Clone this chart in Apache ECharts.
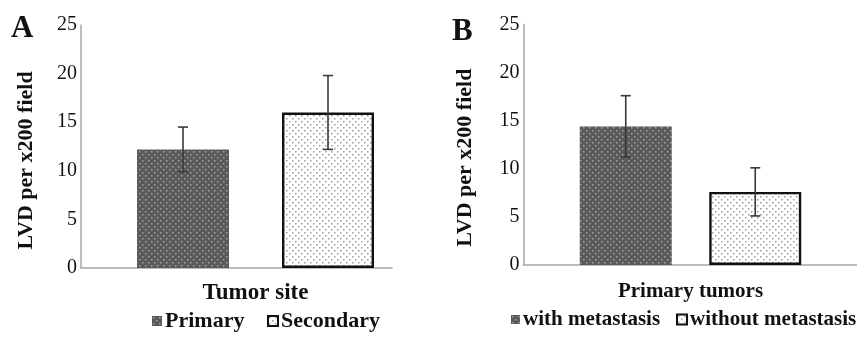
<!DOCTYPE html>
<html>
<head>
<meta charset="utf-8">
<script src="https://cdn.jsdelivr.net/npm/echarts@6/dist/echarts.min.js"></script>
<style>
html,body{margin:0;padding:0;background:#fff;}
#chart{width:857px;height:340px;}
</style>
</head>
<body>
<div id="chart"></div>
<script>
// ---- data ----
const catsA = ['Primary', 'Secondary'];
const meanA = [12.2, 16.0];
const errA = [2.3, 3.8];
const catsB = ['with metastasis', 'without metastasis'];
const meanB = [14.4, 7.6];
const errB = [3.2, 2.5];
const yMin = 0, yMax = 25, yStep = 5;
const xTitleA = 'Tumor site';
const xTitleB = 'Primary tumors';
const yTitle = 'LVD per x200 field';

// ---- styles ----
const FONT = '"Liberation Serif", "Times New Roman", serif';
function makePattern(bg, dot, stagger) {
  const c = document.createElement('canvas');
  c.width = 6; c.height = 6;
  const g = c.getContext('2d');
  g.fillStyle = bg; g.fillRect(0, 0, 6, 6);
  g.fillStyle = dot;
  g.fillRect(1, 1, 1.5, 1.5);
  if (stagger) g.fillRect(4, 4, 1.5, 1.5);
  return c;
}
const darkFill = { image: makePattern('#5a5a5a', '#a2a2a2', true), repeat: 'repeat' };
const lightFill = { image: makePattern('#ffffff', '#9a9a9a', true), repeat: 'repeat' };

function errRender(params, api) {
  const x = api.value(0);
  const lo = api.coord([x, api.value(1)]);
  const hi = api.coord([x, api.value(2)]);
  const w = 5;
  const st = { stroke: '#3a3a3a', lineWidth: 1.6 };
  return {
    type: 'group',
    children: [
      { type: 'line', shape: { x1: lo[0], y1: lo[1], x2: hi[0], y2: hi[1] }, style: st },
      { type: 'line', shape: { x1: hi[0] - w, y1: hi[1], x2: hi[0] + w, y2: hi[1] }, style: st },
      { type: 'line', shape: { x1: lo[0] - w, y1: lo[1], x2: lo[0] + w, y2: lo[1] }, style: st }
    ]
  };
}

function frameY(grid, gap, shift) {
  return {
    type: 'value', gridIndex: grid, min: yMin, max: yMax, interval: yStep,
    axisLine: { show: true, lineStyle: { color: '#a6a6a6', width: 1.5 } },
    axisTick: { show: false }, splitLine: { show: false },
    axisLabel: { color: '#111', fontFamily: FONT, fontSize: 20, margin: 4, padding: [6, 0, 0, 0] },
    name: yTitle, nameLocation: 'middle', nameGap: gap, nameRotate: 90,
    nameTextStyle: { color: '#111', fontFamily: FONT, fontSize: 22, fontWeight: 'bold', padding: [0, shift, 0, 0] }
  };
}
function frameX(grid) {
  return {
    type: 'category', gridIndex: grid, data: [''],
    axisLine: { show: true, lineStyle: { color: '#a6a6a6', width: 1.5 } },
    axisTick: { show: false }, axisLabel: { show: false }, splitLine: { show: false }
  };
}
function dataX(grid, cats, title, gap, fs) {
  return {
    type: 'category', gridIndex: grid, data: cats,
    axisLine: { show: false }, axisTick: { show: false }, axisLabel: { show: false },
    name: title, nameLocation: 'middle', nameGap: gap,
    nameTextStyle: { color: '#111', fontFamily: FONT, fontSize: fs, fontWeight: 'bold' }
  };
}
function dataY(grid) {
  return { type: 'value', gridIndex: grid, min: yMin, max: yMax, interval: yStep, show: false };
}
function bars(name, xi, vals, idx, fill, border) {
  const d = vals.map((v, i) => (i === idx ? v : '-'));
  return {
    type: 'bar', name: name, xAxisIndex: xi, yAxisIndex: xi, data: d,
    barWidth: 92, barGap: '-100%',
    itemStyle: border
      ? { color: fill, borderColor: '#111', borderWidth: 2.4 }
      : { color: fill },
    z: 2
  };
}
function errSeries(xi, means, errs) {
  return {
    type: 'custom', xAxisIndex: xi, yAxisIndex: xi, renderItem: errRender,
    data: means.map((m, i) => [i, m - errs[i], m + errs[i]]),
    encode: { x: 0, y: [1, 2] }, z: 5, silent: true
  };
}
function legendItem(name, left, top, size, fs) {
  return {
    data: [name], left: left, top: top, itemWidth: size, itemHeight: size, icon: 'rect',
    padding: 0,
    textStyle: { fontFamily: FONT, fontSize: fs, fontWeight: 'bold', color: '#111', padding: [0, 0, 0, -2] }
  };
}

const chart = echarts.init(document.getElementById('chart'), null, { renderer: 'canvas' });
chart.setOption({
  animation: false,
  backgroundColor: '#fff',
  title: [
    { text: 'A', left: 11, top: 13, padding: 0, textStyle: { fontFamily: FONT, fontSize: 31, fontWeight: 'bold', color: '#111' } },
    { text: 'B', left: 452, top: 16, padding: 0, textStyle: { fontFamily: FONT, fontSize: 31, fontWeight: 'bold', color: '#111' } }
  ],
  grid: [
    { left: 81, top: 25, width: 311, height: 243 },
    { left: 110.5, top: 25, width: 290, height: 243 },
    { left: 523.5, top: 24.5, width: 333.5, height: 240.5 },
    { left: 561, top: 24.5, width: 259, height: 240.5 }
  ],
  xAxis: [
    frameX(0),
    dataX(1, catsA, xTitleA, 14, 23),
    frameX(2),
    dataX(3, catsB, xTitleB, 16, 21)
  ],
  yAxis: [frameY(0, 44, 28), dataY(1), frameY(2, 47, 26), dataY(3)],
  legend: [
    legendItem(catsA[0], 152, 310, 10, 22),
    legendItem(catsA[1], 267, 310, 10, 22),
    legendItem(catsB[0], 511, 309, 9, 21),
    legendItem(catsB[1], 676, 309, 10, 21)
  ],
  series: [
    bars(catsA[0], 1, meanA, 0, darkFill, false),
    bars(catsA[1], 1, meanA, 1, lightFill, true),
    errSeries(1, meanA, errA),
    bars(catsB[0], 3, meanB, 0, darkFill, false),
    bars(catsB[1], 3, meanB, 1, lightFill, true),
    errSeries(3, meanB, errB)
  ]
});
</script>
</body>
</html>
